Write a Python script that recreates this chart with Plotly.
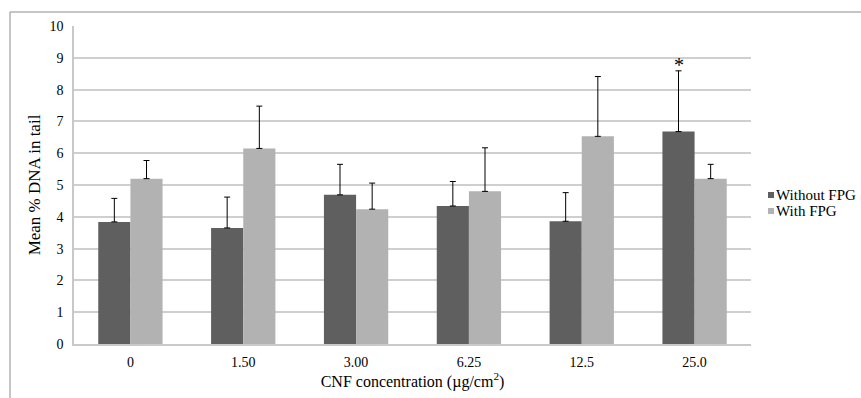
import plotly.graph_objects as go

categories = ["0", "1.50", "3.00", "6.25", "12.5", "25.0"]
without_fpg = [3.84, 3.65, 4.69, 4.34, 3.86, 6.68]
without_fpg_sd = [0.74, 0.97, 0.96, 0.77, 0.90, 1.91]
with_fpg = [5.20, 6.15, 4.24, 4.80, 6.53, 5.20]
with_fpg_sd = [0.57, 1.33, 0.82, 1.37, 1.88, 0.45]
series_names = ["Without FPG", "With FPG"]
series_colors = ["#5f5f5f", "#b2b2b2"]
y_ticks = [0, 1, 2, 3, 4, 5, 6, 7, 8, 9, 10]
significant = ["25.0"]

FONT = "Liberation Serif"
W, H = 861, 398
ML, MR, MT, MB = 74, 110, 26, 54

fig = go.Figure()
for name, vals, sd, col in zip(series_names, [without_fpg, with_fpg],
                               [without_fpg_sd, with_fpg_sd], series_colors):
    fig.add_trace(go.Bar(
        x=categories, y=vals, name=name, showlegend=False,
        marker=dict(color=col, line=dict(width=0)),
        error_y=dict(type="data", array=sd, arrayminus=[0]*len(categories),
                     symmetric=False, color="#000000", thickness=1, width=3),
    ))

# significance asterisk above the "Without FPG" error bar
for c in significant:
    i = categories.index(c)
    fig.add_annotation(x=i, y=without_fpg[i] + without_fpg_sd[i], xref="x", yref="y",
                       text="*", showarrow=False, xshift=-16, yanchor="bottom", yshift=-7,
                       font=dict(family=FONT, size=20, color="#000000"))

pw = W - ML - MR
ph = H - MT - MB
def px_x(p):
    return (p - ML) / pw
def px_y(p):
    return (H - MB - p) / ph

# outer frame (top and left edges)
fig.add_shape(type="line", xref="paper", yref="paper",
              x0=px_x(10), x1=px_x(W + 5), y0=px_y(12), y1=px_y(12),
              line=dict(color="#8c8c8c", width=1))
fig.add_shape(type="line", xref="paper", yref="paper",
              x0=px_x(10), x1=px_x(10), y0=px_y(12), y1=px_y(H + 5),
              line=dict(color="#8c8c8c", width=1))

# legend (small squares + labels, Excel style)
for k, (name, col) in enumerate(zip(series_names, series_colors)):
    cy = 195 + 16 * k
    fig.add_shape(type="rect", xref="paper", yref="paper",
                  x0=px_x(768), x1=px_x(774), y0=px_y(cy + 3), y1=px_y(cy - 3),
                  fillcolor=col, line=dict(width=0))
    fig.add_annotation(x=px_x(774), y=px_y(cy), xref="paper", yref="paper",
                       text=name, showarrow=False, xanchor="left", yanchor="middle",
                       font=dict(family=FONT, size=15, color="#000000"))

fig.update_layout(
    width=W, height=H,
    margin=dict(l=ML, r=MR, t=MT, b=MB, autoexpand=False),
    paper_bgcolor="white", plot_bgcolor="white",
    barmode="group", bargap=0.43, bargroupgap=0,
    font=dict(family=FONT, size=14, color="#000000"),
    showlegend=False,
    xaxis=dict(type="category", range=[-0.5, len(categories) - 0.5], automargin=False,
               showgrid=False, showline=True, linecolor="#c8c8c8",
               linewidth=2, ticks="", ticklabelstandoff=4, tickangle=0,
               tickfont=dict(family=FONT, size=14),
               title=dict(text="CNF concentration (µg/cm<sup>2</sup>)",
                          font=dict(family=FONT, size=16), standoff=4)),
    yaxis=dict(range=[0, 10], tickvals=y_ticks, showgrid=True, gridcolor="#cfcfcf",
               gridwidth=1.5, zeroline=False, showline=True, linecolor="#c8c8c8",
               linewidth=1.5, ticks="", ticklabelstandoff=6, automargin=False,
               tickfont=dict(family=FONT, size=14),
               title=dict(text="Mean % DNA in tail", font=dict(family=FONT, size=17),
                          standoff=5)),
)

fig.write_html("out.html", config={"displayModeBar": False},
               post_script="document.body.style.margin='0';document.body.style.overflow='hidden';")
